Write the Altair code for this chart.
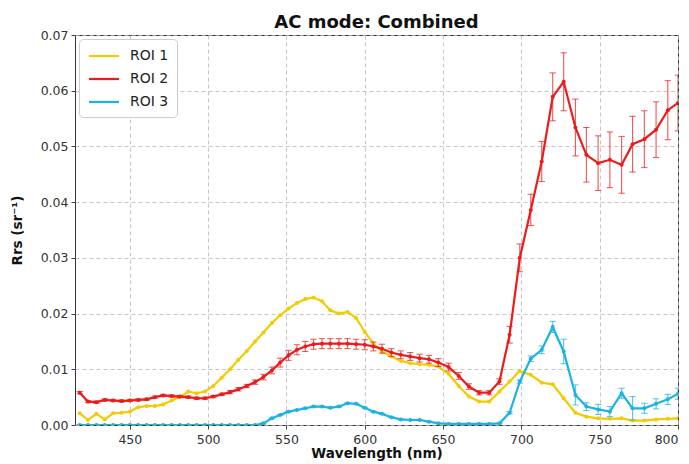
import altair as alt
import pandas as pd

wavelength = [418, 423.3, 428.7, 434, 439.3, 444.7, 450, 455.3, 460.7, 466,
              471.3, 476.7, 482, 487.3, 492.7, 498, 503.3, 508.7, 514, 519.3,
              524.7, 530, 535.3, 540.7, 546, 551.3, 556.7, 562, 567.3, 572.7,
              578, 583.5, 589, 594.5, 600, 605.5, 611, 617, 623, 629,
              635, 641, 647, 653.5, 660, 666.5, 673, 679.5, 686, 692.5,
              699, 706, 713, 720, 727, 734.5, 741.5, 749, 756.5, 764,
              771, 778.5, 786, 793.5, 800]

roi1 = [0.0021, 0.0009, 0.0020, 0.0010, 0.0021, 0.0022, 0.0024, 0.0032, 0.0034, 0.0034,
        0.0037, 0.0044, 0.0050, 0.0060, 0.0057, 0.0060, 0.0070, 0.0085, 0.0100, 0.0117,
        0.0133, 0.0150, 0.0166, 0.0183, 0.0197, 0.0209, 0.0219, 0.0226, 0.0229, 0.0222,
        0.0206, 0.0200, 0.0203, 0.0192, 0.0167, 0.0146, 0.0132, 0.0123, 0.0115, 0.0111,
        0.0109, 0.0108, 0.0105, 0.0092, 0.0070, 0.0051, 0.0042, 0.0042, 0.0060, 0.0078,
        0.0097, 0.0090, 0.0076, 0.0073, 0.0048, 0.0022, 0.0015, 0.0012, 0.0011, 0.0012,
        0.0008, 0.0008, 0.0010, 0.0011, 0.0012]

roi2 = [0.0058, 0.0042, 0.0041, 0.0045, 0.0044, 0.0043, 0.0044, 0.0045, 0.0046, 0.0050,
        0.0053, 0.0052, 0.0051, 0.0050, 0.0048, 0.0048, 0.0051, 0.0055, 0.0059, 0.0064,
        0.0070, 0.0077, 0.0086, 0.0098, 0.0112, 0.0125, 0.0135, 0.0141, 0.0145, 0.0146,
        0.0146, 0.0146, 0.0146, 0.0145, 0.0144, 0.0141, 0.0137, 0.0130, 0.0126, 0.0123,
        0.0120, 0.0118, 0.0112, 0.0104, 0.0088, 0.0069, 0.0058, 0.0058, 0.0078, 0.0162,
        0.0300, 0.0386, 0.0473, 0.0589, 0.0616, 0.0534, 0.0485, 0.0470, 0.0476, 0.0467,
        0.0504, 0.0513, 0.0530, 0.0565, 0.0578]

roi2_err = [0.0002, 0.0002, 0.0002, 0.0002, 0.0002, 0.0002, 0.0002, 0.0002, 0.0002, 0.0002,
            0.0002, 0.0002, 0.0002, 0.0002, 0.0002, 0.0002, 0.0002, 0.0002, 0.0003, 0.0003,
            0.0003, 0.0004, 0.0005, 0.0006, 0.0008, 0.0009, 0.0009, 0.0009, 0.0009, 0.0009,
            0.0009, 0.0009, 0.0009, 0.0009, 0.0009, 0.0008, 0.0008, 0.0007, 0.0007, 0.0007,
            0.0007, 0.0007, 0.0007, 0.0007, 0.0006, 0.0005, 0.0004, 0.0004, 0.0005, 0.0015,
            0.0025, 0.0028, 0.0036, 0.0043, 0.0052, 0.0051, 0.0049, 0.0049, 0.0050, 0.0051,
            0.0050, 0.0051, 0.0050, 0.0053, 0.0050]

roi3 = [0.0, 0.0, 0.0, 0.0, 0.0, 0.0, 0.0, 0.0, 0.0, 0.0,
        0.0, 0.0, 0.0, 0.0, 0.0, 0.0, 0.0, 0.0, 0.0, 0.0,
        0.0, 0.0, 0.0003, 0.0012, 0.0018, 0.0024, 0.0027, 0.0030, 0.0033, 0.0033,
        0.0031, 0.0033, 0.0039, 0.0038, 0.0031, 0.0024, 0.0020, 0.0014, 0.0010, 0.0009,
        0.0009, 0.0006, 0.0003, 0.0002, 0.0002, 0.0002, 0.0002, 0.0002, 0.0003, 0.0022,
        0.0078, 0.0119, 0.0135, 0.0176, 0.0132, 0.0054, 0.0033, 0.0028, 0.0024, 0.0057,
        0.0030, 0.0030, 0.0038, 0.0046, 0.0056]

roi3_err = [0.0001] * 49 + [0.0002, 0.0003,
            0.0005, 0.0007, 0.0010, 0.0022, 0.0018, 0.0007, 0.0009, 0.0009, 0.0009, 0.0021,
            0.0009, 0.0009, 0.0009, 0.0010, 0.0]

labels = ["ROI 1", "ROI 2", "ROI 3"]
colors = ["#f2cb05", "#ec1c1c", "#1ab4e4"]

rows = []
for name, vals, errs in zip(labels, [roi1, roi2, roi3], [[0.0] * len(wavelength), roi2_err, roi3_err]):
    for w, v, e in zip(wavelength, vals, errs):
        rows.append(dict(wl=w, rrs=v, lo=v - e, hi=v + e, err=e, roi=name))
df = pd.DataFrame(rows)

xenc = alt.X("wl:Q", scale=alt.Scale(domain=[415, 800], nice=False, zero=False),
             axis=alt.Axis(values=[450, 500, 550, 600, 650, 700, 750, 800],
                           title="Wavelength (nm)"))
yscale = alt.Scale(domain=[0, 0.07], nice=False)
yaxis = alt.Axis(values=[0, 0.01, 0.02, 0.03, 0.04, 0.05, 0.06, 0.07], format=".2f",
                 title="Rrs (sr⁻¹)")
cenc = alt.Color("roi:N", scale=alt.Scale(domain=labels, range=colors),
                 legend=alt.Legend(title=None, orient="top-left", offset=4,
                                   symbolType="M-2,0H2", symbolStrokeWidth=2.2,
                                   symbolSize=225, symbolOffset=8, labelOffset=17,
                                   labelFontSize=14, rowPadding=7,
                                   padding=8, strokeColor="#cccccc", fillColor="white",
                                   cornerRadius=4, labelFont="DejaVu Sans",
                                   labelColor="#222222"))

base = alt.Chart(df)
errdf = base.transform_filter("datum.err > 0")

rules = errdf.mark_rule(strokeWidth=1.1, opacity=0.75, clip=True).encode(
    x=xenc, y=alt.Y("lo:Q", scale=yscale, axis=yaxis), y2="hi:Q", color=cenc)
caps_lo = errdf.mark_point(shape="M-1,0H1", size=40, filled=False, strokeWidth=1,
                           opacity=0.75, clip=True).encode(
    x=xenc, y=alt.Y("lo:Q", scale=yscale, axis=yaxis), color=cenc)
caps_hi = errdf.mark_point(shape="M-1,0H1", size=40, filled=False, strokeWidth=1,
                           opacity=0.75, clip=True).encode(
    x=xenc, y=alt.Y("hi:Q", scale=yscale, axis=yaxis), color=cenc)
lines = base.mark_line(strokeWidth=2.2, clip=True).encode(
    x=xenc, y=alt.Y("rrs:Q", scale=yscale, axis=yaxis), color=cenc,
    order="wl:Q")
pts = base.mark_point(filled=True, size=16, opacity=1, clip=True).encode(
    x=xenc, y=alt.Y("rrs:Q", scale=yscale, axis=yaxis), color=cenc)

chart = alt.layer(lines, pts, rules, caps_lo, caps_hi).properties(
    width=603, height=390,
    title=alt.TitleParams("AC mode: Combined", fontSize=18, fontWeight="bold",
                          font="DejaVu Sans", color="#111111", anchor="middle",
                          offset=6, dy=9),
    autosize=alt.AutoSizeParams(type="none"),
    padding={"left": 67, "top": 27, "right": 3, "bottom": 40},
).configure_view(
    stroke="#333333", strokeWidth=1
).configure_axis(
    domain=False, grid=True, gridColor="#b8b8b8", gridDash=[4, 3], gridWidth=0.8,
    tickColor="#444444", tickSize=4, labelFont="DejaVu Sans", labelFontSize=12.5,
    labelColor="#333333", titleFont="DejaVu Sans", titleFontSize=13.5,
    titleFontWeight="bold", titleColor="#111111"
).configure_axisX(labelPadding=4, titlePadding=1
).configure_axisY(labelPadding=3, titlePadding=16)

chart.save("out.html", embed_options={"renderer": "svg", "actions": False})
